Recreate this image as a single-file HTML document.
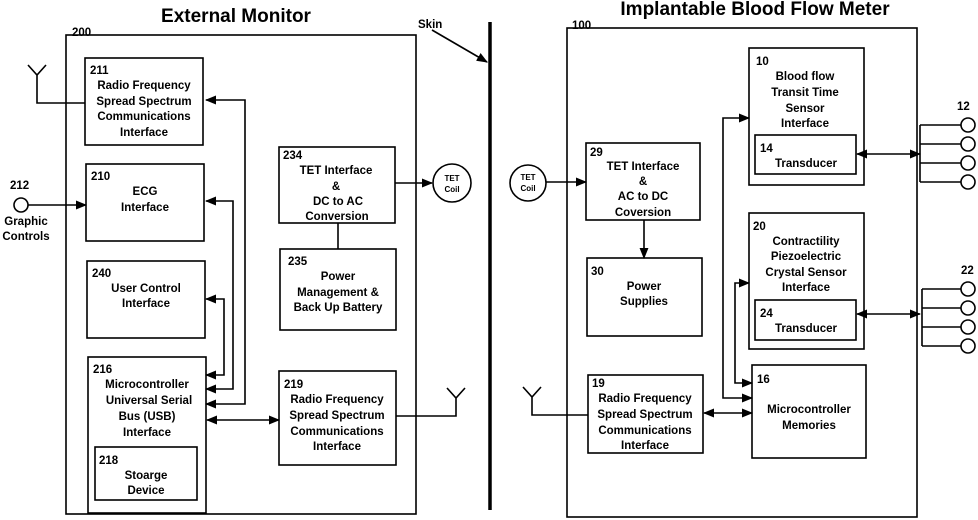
<!DOCTYPE html>
<html><head><meta charset="utf-8"><style>
html,body{margin:0;padding:0;background:#fff;}
svg{display:block;}
text{font-family:"Liberation Sans",Arial,sans-serif;font-weight:bold;fill:#000;}
</style></head><body>
<svg width="978" height="520" viewBox="0 0 978 520" xmlns="http://www.w3.org/2000/svg">
<defs>
<marker id="a" viewBox="0 0 10 10" refX="9" refY="5" markerWidth="7" markerHeight="7" orient="auto-start-reverse"><path d="M0,1 L10,5 L0,9 z" fill="#000"/></marker>
</defs>
<g fill="none" stroke="#000" stroke-width="1.6">
<!-- left outer -->
<rect x="66" y="35" width="350" height="479"/>
<rect x="85" y="58" width="118" height="87"/>
<rect x="86" y="164" width="118" height="77"/>
<rect x="87" y="261" width="118" height="77"/>
<rect x="88" y="357" width="118" height="156"/>
<rect x="95" y="447" width="102" height="53"/>
<rect x="279" y="147" width="116" height="76"/>
<rect x="280" y="249" width="116" height="81"/>
<rect x="279" y="371" width="117" height="94"/>
<circle cx="21" cy="205" r="7"/>
<circle cx="452" cy="183" r="19"/>
<!-- antennas -->
<path d="M28,65 L37,75 L46,65 M37,75 L37,103 L85,103"/>
<path d="M447,388 L456,398 L465,388 M456,398 L456,416 L396,416"/>
<!-- connectors left -->
<path d="M206,100 L245,100 L245,404 L206,404" marker-start="url(#a)" marker-end="url(#a)"/>
<path d="M206,201 L233,201 L233,389 L206,389" marker-start="url(#a)" marker-end="url(#a)"/>
<path d="M206,299 L224,299 L224,375 L206,375" marker-start="url(#a)" marker-end="url(#a)"/>
<path d="M207,420 L279,420" marker-start="url(#a)" marker-end="url(#a)"/>
<path d="M28,205 L86,205" marker-end="url(#a)"/>
<path d="M395,183 L432,183" marker-end="url(#a)"/>
<path d="M338,223 L338,249"/>
<!-- skin -->
<path d="M432,30 L487,62" marker-end="url(#a)"/>
<path d="M490,22 L490,510" stroke-width="3.5"/>
<!-- right outer -->
<rect x="567" y="28" width="350" height="489"/>
<rect x="586" y="143" width="114" height="77"/>
<rect x="587" y="258" width="115" height="78"/>
<rect x="588" y="375" width="115" height="78"/>
<rect x="752" y="365" width="114" height="93"/>
<rect x="749" y="48" width="115" height="137"/>
<rect x="755" y="135" width="101" height="39"/>
<rect x="749" y="213" width="115" height="136"/>
<rect x="755" y="300" width="101" height="40"/>
<circle cx="528" cy="183" r="18"/>
<path d="M546,182 L586,182" marker-end="url(#a)"/>
<path d="M644,220 L644,258" marker-end="url(#a)"/>
<path d="M523,387 L532,397 L541,387 M532,397 L532,415 L588,415"/>
<path d="M704,413 L752,413" marker-start="url(#a)" marker-end="url(#a)"/>
<path d="M752,398 L723,398 L723,118 L749,118" marker-start="url(#a)" marker-end="url(#a)"/>
<path d="M752,383 L735,383 L735,283 L749,283" marker-start="url(#a)" marker-end="url(#a)"/>
<path d="M857,154 L920,154" marker-start="url(#a)" marker-end="url(#a)"/>
<path d="M857,314 L920,314" marker-start="url(#a)" marker-end="url(#a)"/>
<path d="M920,125 L920,182 M920,125 L961,125 M920,144 L961,144 M920,163 L961,163 M920,182 L961,182"/>
<path d="M922,289 L922,346 M922,289 L961,289 M922,308 L961,308 M922,327 L961,327 M922,346 L961,346"/>
<circle cx="968" cy="125" r="7"/><circle cx="968" cy="144" r="7"/><circle cx="968" cy="163" r="7"/><circle cx="968" cy="182" r="7"/>
<circle cx="968" cy="289" r="7"/><circle cx="968" cy="308" r="7"/><circle cx="968" cy="327" r="7"/><circle cx="968" cy="346" r="7"/>
</g>
<g font-size="11.5">
<text x="236" y="22" font-size="19" text-anchor="middle">External Monitor</text>
<text x="755" y="15" font-size="19" text-anchor="middle">Implantable Blood Flow Meter</text>
<text x="72" y="36">200</text>
<text x="572" y="29">100</text>
<text x="418" y="28">Skin</text>
<text x="10" y="189">212</text>
<text x="26" y="225" text-anchor="middle">Graphic</text>
<text x="26" y="240" text-anchor="middle">Controls</text>
<text x="90" y="74">211</text>
<g text-anchor="middle">
<text x="144" y="89">Radio Frequency</text>
<text x="144" y="105">Spread Spectrum</text>
<text x="144" y="120">Communications</text>
<text x="144" y="136">Interface</text>
</g>
<text x="91" y="180">210</text>
<text x="145" y="195" text-anchor="middle">ECG</text>
<text x="145" y="211" text-anchor="middle">Interface</text>
<text x="92" y="277">240</text>
<text x="146" y="292" text-anchor="middle">User Control</text>
<text x="146" y="307" text-anchor="middle">Interface</text>
<text x="93" y="373">216</text>
<g text-anchor="middle">
<text x="147" y="388">Microcontroller</text>
<text x="149" y="404">Universal Serial</text>
<text x="147" y="420">Bus (USB)</text>
<text x="147" y="436">Interface</text>
<text x="146" y="479">Stoarge</text>
<text x="146" y="494">Device</text>
</g>
<text x="99" y="464">218</text>
<text x="283" y="159">234</text>
<g text-anchor="middle">
<text x="336" y="174">TET Interface</text>
<text x="336" y="190">&amp;</text>
<text x="338" y="205">DC to AC</text>
<text x="337" y="220">Conversion</text>
</g>
<text x="288" y="265">235</text>
<g text-anchor="middle">
<text x="338" y="280">Power</text>
<text x="338" y="296">Management &amp;</text>
<text x="338" y="311">Back Up Battery</text>
</g>
<text x="284" y="388">219</text>
<g text-anchor="middle">
<text x="337" y="403">Radio Frequency</text>
<text x="337" y="419">Spread Spectrum</text>
<text x="337" y="435">Communications</text>
<text x="337" y="450">Interface</text>
</g>
<text x="452" y="181" font-size="8" text-anchor="middle">TET</text>
<text x="452" y="192" font-size="8" text-anchor="middle">Coil</text>
<text x="528" y="180" font-size="8" text-anchor="middle">TET</text>
<text x="528" y="191" font-size="8" text-anchor="middle">Coil</text>
<text x="590" y="156">29</text>
<g text-anchor="middle">
<text x="643" y="170">TET Interface</text>
<text x="643" y="185">&amp;</text>
<text x="643" y="200">AC to DC</text>
<text x="643" y="216">Coversion</text>
</g>
<text x="591" y="275">30</text>
<text x="644" y="290" text-anchor="middle">Power</text>
<text x="644" y="305" text-anchor="middle">Supplies</text>
<text x="592" y="387">19</text>
<g text-anchor="middle">
<text x="645" y="402">Radio Frequency</text>
<text x="645" y="418">Spread Spectrum</text>
<text x="645" y="434">Communications</text>
<text x="645" y="449">Interface</text>
</g>
<text x="756" y="65">10</text>
<g text-anchor="middle">
<text x="805" y="80">Blood flow</text>
<text x="805" y="96">Transit Time</text>
<text x="805" y="112">Sensor</text>
<text x="805" y="127">Interface</text>
</g>
<text x="760" y="152">14</text>
<text x="806" y="167" text-anchor="middle">Transducer</text>
<text x="753" y="230">20</text>
<g text-anchor="middle">
<text x="806" y="245">Contractility</text>
<text x="806" y="260">Piezoelectric</text>
<text x="806" y="276">Crystal Sensor</text>
<text x="806" y="291">Interface</text>
</g>
<text x="760" y="317">24</text>
<text x="806" y="332" text-anchor="middle">Transducer</text>
<text x="757" y="383">16</text>
<text x="809" y="413" text-anchor="middle">Microcontroller</text>
<text x="809" y="429" text-anchor="middle">Memories</text>
<text x="957" y="110">12</text>
<text x="961" y="274">22</text>
</g>
</svg>
</body></html>
